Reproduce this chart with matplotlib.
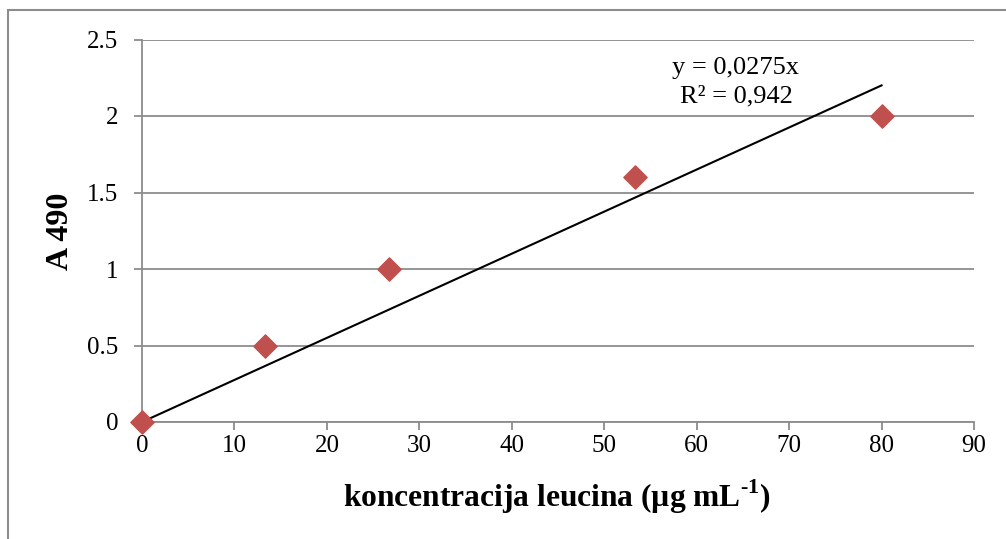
import matplotlib.pyplot as plt
import numpy as np
from matplotlib.patches import Rectangle

plt.rcParams['font.family'] = ['Liberation Serif', 'DejaVu Serif']
plt.rcParams['mathtext.fontset'] = 'custom'
plt.rcParams['mathtext.rm'] = 'Liberation Serif:bold'
plt.rcParams['mathtext.bf'] = 'Liberation Serif:bold'

# data
concentration = [0, 13.3, 26.7, 53.3, 80]
absorbance = [0, 0.5, 1.0, 1.6, 2.0]
slope = 0.0275
x_ticks = [0, 10, 20, 30, 40, 50, 60, 70, 80, 90]
y_ticks = [0, 0.5, 1, 1.5, 2, 2.5]
y_tick_labels = ['0', '0.5', '1', '1.5', '2', '2.5']

grid_grey = '#8c8c8c'

fig = plt.figure(figsize=(10.06, 5.39), dpi=100)
ax = fig.add_axes([142 / 1006, 1 - 422 / 539, 832 / 1006, 382.5 / 539])

# outer chart frame
fig.patches.append(Rectangle((8 / 1006, -0.1), 1.2, 1 - 10 / 539 + 0.1,
                             transform=fig.transFigure, fill=False,
                             edgecolor=grid_grey, linewidth=1.5))

ax.set_xlim(0, 90)
ax.set_ylim(0, 2.5)
ax.set_xticks(x_ticks)
ax.set_yticks(y_ticks)
ax.set_yticklabels(y_tick_labels)
ax.grid(axis='y', color=grid_grey, linewidth=1.3)
ax.set_axisbelow(True)
for side in ['top', 'right']:
    ax.spines[side].set_visible(False)
for side in ['left', 'bottom']:
    ax.spines[side].set_color(grid_grey)
    ax.spines[side].set_linewidth(1.3)
ax.tick_params(axis='both', colors=grid_grey, labelcolor='black', labelsize=18,
               length=6, width=1.3)
ax.tick_params(axis='y', pad=11)
ax.tick_params(axis='x', pad=3)

# trendline
xs = np.array([0, concentration[-1]])
ax.plot(xs, slope * xs, color='black', linewidth=1.5, zorder=3)

ax.scatter(concentration, absorbance, marker='D', s=140, color='#C0504D',
           zorder=4, clip_on=False)

fig.text(736 / 1006, 1 - 68 / 539, 'y = 0,0275x', ha='center', va='center',
         fontsize=19)
fig.text(736 / 1006, 1 - 96 / 539, 'R² = 0,942', ha='center', va='center',
         fontsize=19)

fig.text(557 / 1006, 1 - 497 / 539,
         r'koncentracija leucina (µg mL$^{\text{-}1}$)',
         ha='center', va='center', fontsize=22.7, fontweight='bold')
fig.text(60 / 1006, 1 - 231 / 539, 'A 490', ha='center', va='center',
         fontsize=23, fontweight='bold', rotation=90)

fig.savefig('out.png', dpi=100)
